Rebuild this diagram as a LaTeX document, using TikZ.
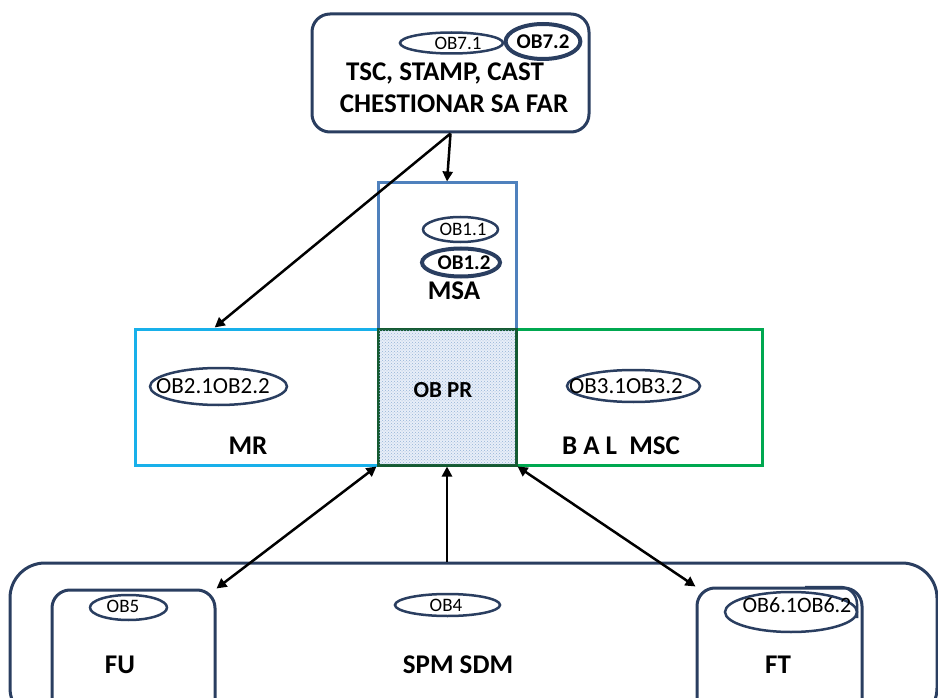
\documentclass[tikz,border=0pt]{standalone}
\usepackage{fontspec}
\setmainfont{Carlito}
\usetikzlibrary{shapes.geometric,arrows.meta,patterns,calc}
\definecolor{navy}{RGB}{42,62,96}
\definecolor{msablue}{RGB}{79,129,189}
\definecolor{mrcyan}{RGB}{24,176,234}
\definecolor{balgreen}{RGB}{0,168,80}
\definecolor{prgreen}{RGB}{20,90,50}
\tikzset{
  rbox/.style={draw=navy, line width=3pt, rounded corners=18pt, inner sep=0pt},
  sqbox/.style={line width=3pt, inner sep=0pt},
  oval/.style={ellipse, draw=navy, line width=2.5pt, inner sep=0pt},
  thickoval/.style={oval, line width=4pt},
  lbl/.style={font=\bfseries\fontsize{27}{30}\selectfont},
  arr/.style={line width=2.5pt, -{Triangle[length=10pt,width=10pt]}},
  darr/.style={line width=2.5pt, {Triangle[length=10pt,width=10pt]}-{Triangle[length=10pt,width=10pt]}},
}
\begin{document}
\begin{tikzpicture}[x=1pt,y=-1pt]
\useasboundingbox (0,0) rectangle (938,698);
\clip (0,0) rectangle (938,698);
% top box
\node[rbox, minimum width=277pt, minimum height=118pt] (top) at (450.5,73) {};
\node[oval, minimum width=103pt, minimum height=21pt] (ob71) at (451.5,43) {};
\node[font=\fontsize{19}{20}\selectfont] (ob71t) at (458,43) {OB7.1};
\node[thickoval, minimum width=72pt, minimum height=35pt, font=\bfseries\fontsize{21}{22}\selectfont] (ob72) at (543,41.5) {OB7.2};
\node[lbl] (tsc) at (445,73) {TSC, STAMP, CAST};
\node[lbl] (chest) at (454,104) {CHESTIONAR SA FAR};
% MSA
\node[draw=msablue, sqbox, minimum width=138pt, minimum height=147pt] (msa) at (447,256.5) {};
\node[oval, minimum width=75pt, minimum height=25pt] (ob11) at (460.5,229.5) {};
\node[font=\fontsize{19}{20}\selectfont] (ob11t) at (463,229.5) {OB1.1};
\node[thickoval, minimum width=78pt, minimum height=28pt] (ob12) at (461,262.5) {};
\node[font=\bfseries\fontsize{21}{22}\selectfont] (ob12t) at (464,263) {OB1.2};
\node[lbl] (msat) at (454,291) {MSA};
% middle row
\node[draw=mrcyan, sqbox, minimum width=243pt, minimum height=136pt] (mr) at (256.5,397) {};
\node[draw=balgreen, sqbox, minimum width=246pt, minimum height=136pt] (bal) at (639,397) {};
\node[draw=prgreen, sqbox, fill={rgb,255:red,232;green,238;blue,248}, minimum width=138pt, minimum height=136pt] (obpr) at (447,397) {};
\fill[pattern=crosshatch dots, pattern color=msablue!60] ($(obpr.south west)+(2,-2)$) rectangle ($(obpr.north east)+(-2,2)$);
\node[font=\bfseries\fontsize{23}{24}\selectfont] (obprt) at (443,390) {OB PR};
\node[oval, minimum width=137pt, minimum height=37pt] (ob2) at (218.5,386.5) {};
\node[font=\fontsize{23}{24}\selectfont] (ob2t) at (213,386) {OB2.1OB2.2};
\node[oval, minimum width=133pt, minimum height=32pt] (ob3) at (633.5,386) {};
\node[font=\fontsize{23}{24}\selectfont] (ob3t) at (626,386) {OB3.1OB3.2};
\node[lbl] (mrt) at (248,446) {MR};
\node[lbl] (balt) at (621,446) {B A L\ \ MSC};
% bottom
\node[draw=navy, line width=3pt, rounded corners=35pt, minimum width=927pt, minimum height=160pt, inner sep=0pt] (spm) at (473.5,643) {};
\node[rbox, minimum width=163pt, minimum height=130pt] (fu) at (133.5,655) {};
\node[rbox, minimum width=165pt, minimum height=134pt] (ft) at (779.5,655) {};
\draw[navy, line width=2.5pt] (805,587) -- (840,587) arc[start angle=-90, end angle=0, radius=17] -- (857,618);
\node[oval, minimum width=77pt, minimum height=25pt] (ob5) at (128.5,607.5) {};
\node[font=\fontsize{19}{20}\selectfont] (ob5t) at (123,606) {OB5};
\node[oval, minimum width=105pt, minimum height=22pt] (ob4) at (447.5,605) {};
\node[font=\fontsize{19}{20}\selectfont] (ob4t) at (446,605) {OB4};
\node[oval, minimum width=132pt, minimum height=40pt] (ob6) at (791,612) {};
\node[font=\fontsize{22}{24}\selectfont] (ob6t) at (797,605) {OB6.1OB6.2};
\node[lbl] (fut) at (120,665) {FU};
\node[lbl] (spmt) at (458,665) {SPM SDM};
\node[lbl] (ftt) at (778,665) {FT};
% connectors
\draw[arr] (top.south) -- (msa.north);
\draw[arr] (top.south) -- ($(mr.north west)!0.33!(mr.north east)$);
\draw[arr] (obpr.south |- spm.north) -- (obpr.south);
\draw[darr] (obpr.south west) -- (fu.north east);
\draw[darr] (obpr.south east) -- (ft.north west);
\end{tikzpicture}
\end{document}
